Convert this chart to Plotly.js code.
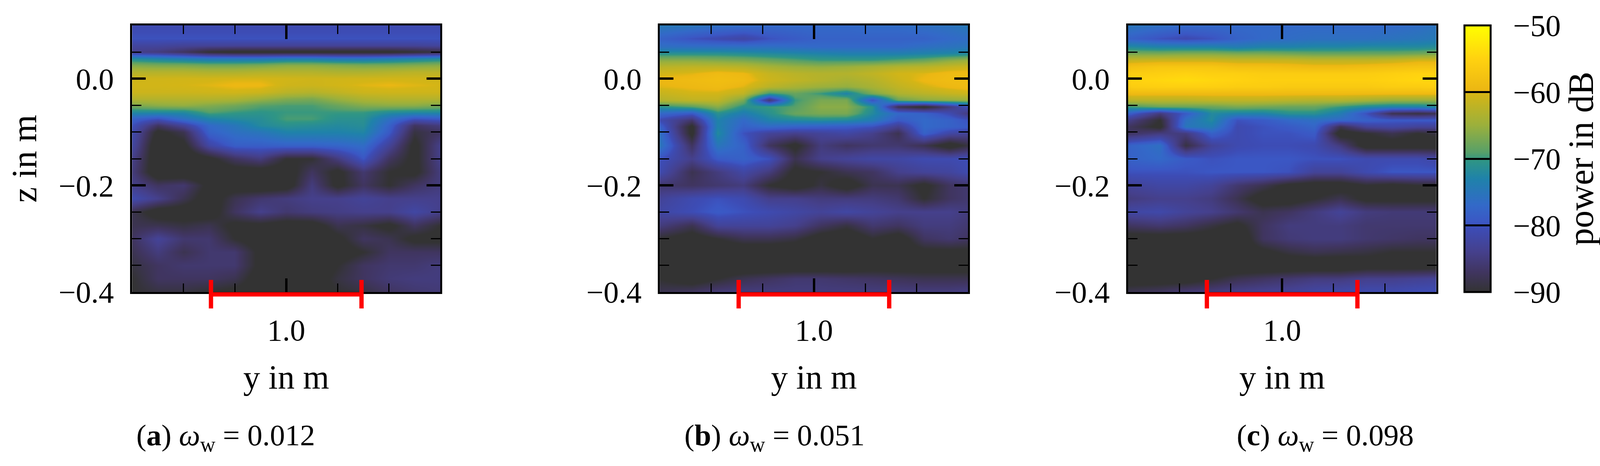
<!DOCTYPE html>
<html><head><meta charset="utf-8">
<script src="https://cdn.plot.ly/plotly-3.0.1.min.js"></script>
<style>html,body{margin:0;padding:0;background:#fff;overflow:hidden}</style></head>
<body><div id="chart"></div>
<script>
const colsA = [0.70,0.75,0.80,0.85,0.90,0.95,1.00,1.05,1.10,1.15,1.20,1.25,1.30];
const colsBC = [0.70,0.7626,0.8128,0.8629,0.9131,0.9632,1.0134,1.0636,1.1137,1.1639,1.2141,1.2642,1.30];
const rowsA = [0.1,0.075,0.0625,0.05,0.0375,0.025,0.0125,0,-0.0125,-0.025,-0.0375,-0.05,-0.0625,-0.075,-0.0875,-0.1,-0.125,-0.15,-0.175,-0.2,-0.225,-0.25,-0.275,-0.3,-0.325,-0.35,-0.375,-0.4];
const rowsBC = [0.1,0.075,0.06,0.0475,0.035,0.0225,0.01,-0.0025,-0.015,-0.0275,-0.04,-0.0525,-0.065,-0.0775,-0.09,-0.1025,-0.125,-0.15,-0.175,-0.2,-0.225,-0.25,-0.275,-0.3,-0.325,-0.35,-0.375,-0.4];

const powerA = [
[-81,-81,-81,-81,-81,-81,-81,-81,-81,-81,-81,-81,-81],
[-80,-80,-80,-80,-80,-80,-80,-80,-80,-80,-80,-80,-80],
[-82.5,-82.5,-83,-83,-83,-83,-83,-83,-83,-83,-83,-83,-82.5],
[-84,-85,-87,-90,-91,-91,-91,-91,-91,-91,-91,-90,-89],
[-72,-73,-74,-75,-75,-75,-74,-74,-75,-75,-74,-73,-72],
[-66.5,-67,-67,-67.5,-67.5,-67,-66,-66,-66.5,-67,-67,-66.5,-66],
[-63,-63,-63,-63.5,-63.5,-63,-63,-63,-63.5,-63.5,-63,-62.5,-62.5],
[-60.7,-60.7,-60.6,-60.5,-60.3,-60.3,-60.6,-60.8,-60.7,-60.6,-60.5,-60.6,-60.7],
[-60.5,-60.5,-60.3,-60,-59.5,-59.5,-60.8,-61,-60.5,-60,-59.7,-60,-60.3],
[-61,-61,-61,-60.8,-60.6,-61,-62.5,-63,-62,-61,-60.8,-60.8,-60.8],
[-63,-63,-63,-63,-63.5,-65,-66.5,-67,-65,-63.5,-63,-63,-63],
[-67,-66,-65.5,-66.5,-67.5,-69,-69.5,-69.5,-68,-66.5,-66,-66,-67],
[-72,-72,-72,-69,-70,-70.5,-70,-70,-70,-70,-71.5,-72,-72],
[-78,-80,-76,-73,-72,-71.5,-69.5,-69.5,-71,-71,-76,-80,-79],
[-80,-87,-83,-77,-75,-72,-71,-71.5,-72,-71.5,-78,-87,-85],
[-81,-91,-88,-78,-76,-75,-73,-73,-73,-72.5,-79,-89,-87],
[-82,-93,-91,-82,-78.5,-78.5,-78,-78,-77.5,-76.5,-83,-91,-84],
[-84,-93,-93,-91,-87,-85,-90,-90,-85,-79.5,-87,-91,-84],
[-85,-93,-93,-93,-92,-92,-92,-87,-91,-86,-90,-91,-85],
[-84,-87,-86,-91,-92,-93,-92,-85,-91,-87,-90,-87,-85],
[-81,-84,-88,-92,-88,-86,-85,-84,-84,-83,-84,-84,-84],
[-88,-92,-92,-92,-87,-84,-86,-85,-84.5,-84,-84,-82,-84],
[-88,-88,-89,-88,-91,-91,-92,-92,-88,-89,-91,-87,-90],
[-87,-83,-86,-86,-90,-92,-93,-93,-91,-87,-88,-91,-91],
[-88,-85,-88,-86,-86,-91,-93,-93,-92,-90,-87,-87,-87],
[-89,-87,-86,-86,-86,-91,-93,-93,-90,-87,-86,-86,-85],
[-90,-87,-87,-87,-88,-92,-93,-92,-89,-87,-85.5,-85,-85],
[-90,-89,-89,-90,-91,-92,-92,-92,-90,-89,-87,-86,-85.5]
];
const powerB = [
[-74.5,-75,-76,-76.5,-77,-77,-77,-77,-76.5,-76.5,-76,-75.5,-74.5],
[-78,-80,-81,-82,-80,-79,-78,-78,-78,-78,-78,-77,-76.5],
[-76,-76,-76,-76,-76,-76.5,-77,-77,-77,-77,-76,-75.5,-75],
[-71,-71,-71,-71.5,-72,-72.5,-73,-73.5,-73.5,-73.5,-73,-72.5,-72],
[-66,-66,-66.5,-67,-68,-69,-70,-70,-70,-69,-68,-66,-65],
[-62.5,-62,-62,-62.5,-64,-65,-65.5,-65,-64,-63,-62.5,-61.5,-61],
[-60.5,-60,-59,-59.5,-61.5,-62.5,-63,-63,-62,-60.5,-60,-59,-58.8],
[-59.5,-59,-58.5,-59,-61,-62,-63,-64,-63,-61,-59.5,-58.8,-58.5],
[-60,-59.5,-59,-60,-62.5,-64,-65,-65.5,-64,-62,-60.5,-59.5,-59],
[-61.5,-60.5,-60.5,-62,-70,-68,-70,-73,-67,-63.5,-62.5,-61.5,-61],
[-63,-62,-62,-67,-86,-70,-67,-67,-80,-68,-66,-65.5,-65],
[-71,-69,-66,-71,-70,-69,-66,-66,-71,-88,-91,-85,-80],
[-77,-79,-71,-74,-71,-68,-67,-67,-72,-77,-78,-81,-85],
[-81,-86,-73,-77,-73,-72,-71.5,-72,-74,-79,-77,-78,-80],
[-78,-91,-73,-78,-77,-78,-78.5,-79,-80,-84,-77,-78,-79],
[-76,-91,-72,-80,-83,-84,-83,-82,-84,-88,-78,-82,-83],
[-75,-87,-75,-78,-87,-91,-85,-87,-86,-86,-88,-92,-89],
[-80,-84,-79,-78,-80,-88,-84,-83,-82,-82,-81,-81,-80.5],
[-81,-88,-85,-82,-85,-91,-90,-88,-87,-84,-83,-82.5,-81],
[-86,-87,-86,-85,-90,-92,-89,-92,-88,-88,-91,-87,-86],
[-83,-81,-80,-81,-84,-84,-85,-85,-85,-86,-90,-87,-86],
[-82,-80.5,-79,-80,-81,-82,-83,-82,-83,-84,-84,-84,-85],
[-85,-88,-83,-83,-83,-84,-87,-89,-86,-87,-85,-85,-86],
[-90,-92,-90,-88,-88,-89,-92,-93,-90,-92,-87,-86,-87],
[-93,-93,-93,-93,-93,-93,-93,-93,-93,-92,-91,-91,-91],
[-93,-93,-93,-93,-93,-93,-93,-93,-92,-92,-92,-92,-92],
[-90,-92,-90,-88,-87,-86,-86,-86.5,-87,-87.5,-88,-88,-88],
[-88,-87,-85.5,-85,-85,-85,-85,-85,-85,-85,-85,-85,-84.5]
];
const powerC = [
[-75,-76,-77,-77,-77,-77,-77,-77,-77,-77,-77,-76.5,-75.5],
[-78,-80,-81,-80,-78,-77,-76.5,-76,-76,-76,-75.5,-75,-74.5],
[-72,-73,-73,-73,-74,-73,-73,-72.5,-72.5,-72,-72,-72,-71.5],
[-67,-67,-66.5,-66.5,-67,-67,-67.5,-68,-68,-68,-68,-67.5,-67],
[-61.5,-61,-61,-61,-61.5,-61.5,-61.5,-62,-62,-62,-61.5,-60.5,-60.5],
[-58,-57,-57,-57,-58,-58,-58.5,-59,-59,-58.5,-58,-57.5,-57.5],
[-56,-55.5,-55,-55.5,-55.5,-56,-56,-56,-56,-56,-55.5,-55,-55],
[-55,-54.5,-54,-54.5,-55,-55.5,-55.5,-55.5,-55.5,-55.5,-55,-54.5,-54.5],
[-56,-55.5,-55.5,-55.5,-56,-56,-56.5,-56.5,-56.5,-56.5,-56,-56,-55.5],
[-59,-59,-59,-59,-59,-59,-59,-59,-59,-59,-59,-59,-59],
[-62.5,-62.5,-62.5,-62,-62,-62,-62.5,-63,-63,-64,-65,-65,-65],
[-70,-68,-68,-68,-67,-67.5,-68,-68,-70,-72,-73,-73,-72],
[-78,-85,-79,-72,-73,-73,-71,-71,-74,-80,-88,-89,-88],
[-84,-90,-76,-72,-80,-79,-77,-76,-77,-78,-79,-79,-79],
[-87,-91,-75,-74,-81,-80,-79,-77.5,-88,-83,-82,-83,-83],
[-87,-85,-85,-78,-81,-80,-80,-79,-92,-90,-88,-90,-89],
[-78,-76,-89,-83,-81,-80.5,-80.5,-81,-85,-92,-92,-92,-92],
[-78,-77,-79,-80,-79.5,-79.5,-79.5,-80,-80,-81,-81,-81,-82],
[-80,-80,-80,-79.5,-79.5,-79.5,-80,-83,-83,-81,-79.5,-79.5,-79.5],
[-83,-82,-82,-83,-86,-88,-91,-92,-92,-90,-91,-90,-90],
[-85,-84,-84,-85,-88,-92,-92,-90,-88,-91,-91,-91,-91],
[-82,-81.5,-83,-84,-86,-88,-87,-85,-83,-85,-85.5,-85.5,-85.5],
[-87,-86,-87,-89,-91,-87,-85,-85,-85,-86,-86,-86,-86],
[-92,-92,-92,-92,-93,-87,-85.5,-85,-85,-86,-86.5,-87,-87],
[-93,-92,-92,-92,-92,-91,-89,-88,-88.5,-89,-90,-90,-90],
[-93,-93,-93,-93,-93,-93,-93,-93,-93,-92,-92,-92,-92],
[-92,-92,-92,-90,-88,-87,-86,-85,-85,-84,-84,-83.5,-83],
[-88,-87,-85.5,-85,-84,-83.5,-83,-82,-81.5,-81,-81,-80.5,-80.5]
];
const captions = ['(<b>a</b>) <i>ω</i><sub>w</sub> = 0.012','(<b>b</b>) <i>ω</i><sub>w</sub> = 0.051','(<b>c</b>) <i>ω</i><sub>w</sub> = 0.098'];
const zTicks = [0,-0.2,-0.4], zTickText = ['0.0','−0.2','−0.4'];
const zMinor = [0.05,-0.05,-0.1,-0.15,-0.25,-0.3,-0.35];
const yTicks = [1.0], yTickText = ['1.0'];
const yMinor = [0.8,0.9,1.1,1.2];
const cbVals = [-90,-80,-70,-60,-50], cbText = ['−90','−80','−70','−60','−50'];
const apertureY = [0.8535,0.8535,null,0.8535,1.1465,null,1.1465,1.1465];
const apertureZ = [-0.3773,-0.4308,null,-0.4044,-0.4044,null,-0.3773,-0.4308];
const scale = [[0,'#333333'],[0.075,'#403560'],[0.15,'#45408c'],[0.2375,'#3d4cb5'],[0.2625,'#3b57c4'],[0.325,'#3369c8'],[0.425,'#1f82aa'],[0.4925,'#2f9585'],[0.525,'#58a068'],[0.625,'#9bb03c'],[0.7425,'#d4b516'],[0.7575,'#ecb713'],[0.875,'#ffd210'],[1,'#ffff00']];

// reference frame in pixels; the page may be narrower, so x positions stay as fractions of it
const RW=4251,H=1192,FONT='Liberation Serif';
const W=Math.min(document.documentElement.clientWidth||RW,RW), K=W/RW;
const pLeft=[351,1753,2997], pW=819, pTop=65, pBot=747;
const datas=[powerA,powerB,powerC], xs=[colsA,colsBC,colsBC], ys=[rowsA,rowsBC,rowsBC];
const traces=[], layout={width:W,height:H,margin:{l:0,r:0,t:0,b:0,autoexpand:false},paper_bgcolor:'#fff',plot_bgcolor:'rgba(0,0,0,0)',showlegend:false,font:{family:FONT,size:78,color:'#000'},annotations:[]};
const capX=[600,2058,3521];
for(let i=0;i<3;i++){
  const s=i?String(i+1):'', o=String(i+4);
  traces.push({type:'heatmap',x:xs[i],y:ys[i],z:datas[i],xaxis:'x'+s,yaxis:'y'+s,zmin:-90,zmax:-50,zsmooth:'best',colorscale:scale,hoverinfo:'skip',showscale:i===2,
    colorbar:i===2?{x:3891/RW,xanchor:'left',xref:'paper',y:1-(pTop+pBot)/2/H,yanchor:'middle',yref:'paper',lenmode:'pixels',len:pBot-pTop,thicknessmode:'pixels',thickness:70*K,xpad:0,ypad:0,outlinewidth:5,outlinecolor:'#000',borderwidth:0,tickmode:'array',tickvals:cbVals,ticktext:cbText.map(t=>'\u00a0\u00a0'+t),ticks:'inside',ticklen:70*K,tickwidth:5,tickcolor:'#000',tickfont:{family:FONT,size:78,color:'#000'},title:{text:'power in dB',side:'right',font:{family:FONT,size:90,color:'#000'}}}:undefined});
  traces.push({type:'scatter',mode:'lines',x:apertureY,y:apertureZ,xaxis:'x'+o,yaxis:'y'+o,line:{color:'#ff0000',width:11,simplify:false},hoverinfo:'skip'});
  const axc={showline:true,linewidth:5,linecolor:'#000',mirror:'allticks',ticks:'inside',tickwidth:6,ticklen:35,tickcolor:'#000',showgrid:false,zeroline:false,tickfont:{family:FONT,size:78,color:'#000'},tickmode:'array'};
  const dom=[pLeft[i]/RW,(pLeft[i]+pW)/RW];
  layout['xaxis'+s]={...axc,anchor:'y'+s,domain:dom,range:[0.7,1.3],tickvals:yTicks,ticktext:yTickText,ticklabelstandoff:25,
    minor:{ticks:'inside',tickmode:'array',tickvals:yMinor,ticklen:22,tickwidth:2.5,tickcolor:'#000',showgrid:false},
    title:{text:'y in m',font:{family:FONT,size:86,color:'#000'},standoff:49}};
  layout['yaxis'+s]={...axc,anchor:'x'+s,domain:[1-pBot/H,1-pTop/H],range:[-0.4,0.1],tickvals:zTicks,ticktext:zTickText,ticklabelstandoff:26,
    minor:{ticks:'inside',tickmode:'array',tickvals:zMinor,ticklen:24,tickwidth:2.5,tickcolor:'#000',showgrid:false},
    title:i===0?{text:'z in m',font:{family:FONT,size:90,color:'#000'},standoff:28}:undefined};
  // hidden companion axes share the panel's scale and reach past its lower edge for the aperture marker
  layout['xaxis'+o]={visible:false,anchor:'y'+o,domain:dom,range:[0.7,1.3]};
  layout['yaxis'+o]={visible:false,anchor:'x'+o,domain:[1-800/H,1-700/H],range:[-0.43886,-0.36554]};
  layout.annotations.push({xref:'paper',yref:'paper',x:capX[i]/RW,y:1-1118/H,xanchor:'center',yanchor:'middle',showarrow:false,text:captions[i],font:{family:FONT,size:77,color:'#000'}});
}
Plotly.newPlot('chart',traces,layout,{displayModeBar:false,responsive:false});
</script></body></html>
